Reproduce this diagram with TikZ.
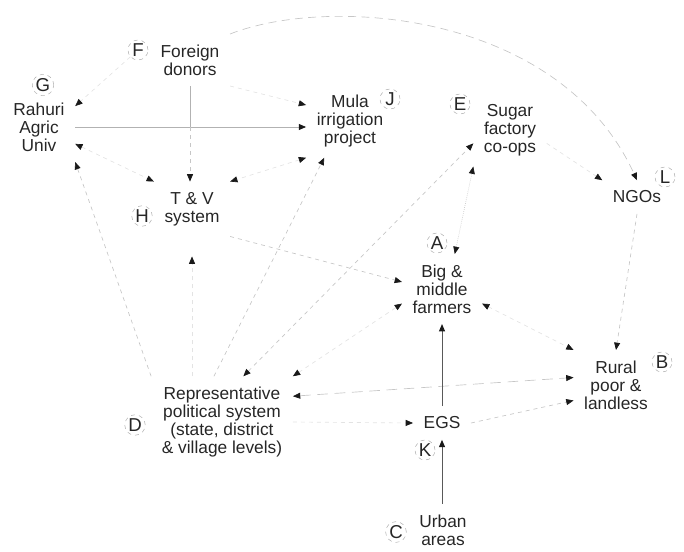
\documentclass[tikz,border=0pt]{standalone}
\usepackage{fontspec}
\setmainfont{Liberation Sans}
\usepackage{tikz}
\usetikzlibrary{arrows.meta,positioning,calc}
\tikzset{
  agActor/.style={align=center, inner sep=1.5pt, outer sep=6.5pt,
    font=\fontsize{13}{13.5}\selectfont, text=black!85},
  agTag/.style={circle, draw=gray!60, dashed, line width=0.4pt, inner sep=0.5pt,
    minimum size=15pt, font=\fontsize{14}{14}\selectfont, text=black!85},
  %% Connectors
  agTip/.style={-{Triangle[length=5.5pt, width=4.5pt, color=black!90]}},
  agLink/.style={draw=gray!45, dashed, line width=0.5pt, agTip},
  agBoth/.style={draw=gray!45, dashed, line width=0.5pt,
    {Triangle[length=5.5pt, width=4.5pt, color=black!90]}-{Triangle[length=5.5pt, width=4.5pt, color=black!90]}},
  agFaint/.style={draw=gray!22},
  agPlain/.style={draw=gray!60, line width=0.6pt},
  agMain/.style={draw=black!65, line width=0.7pt, agTip},
}

\begin{document}
\begin{tikzpicture}[x=0.75pt, y=-0.75pt, font=\fontsize{13}{13.5}\selectfont]
\useasboundingbox (0,0) rectangle (684,551);

%% Actors
\node[agActor] (donors)  at (190, 60) {Foreign\\donors};
\node[agActor] (rahuri)  at ( 39,127) {Rahuri\\Agric\\Univ};
\node[agActor] (mula)    at (350,121) {Mula\\irrigation\\project};
\node[agActor] (sugar)   at (510,130) {Sugar\\factory\\co-ops};
\node[agActor] (ngos)    at (637,197) {NGOs};
\node[agActor] (tv)      at (192,209) {T \& V\\system};
\node[agActor] (farmers) at (442,289) {Big \&\\middle\\farmers};
\node[agActor] (poor)    at (616,385) {Rural\\poor \&\\landless};
\node[agActor] (polsys)  at (222,422) {Representative\\political system\\(state, district\\\& village levels)};
\node[agActor] (egs)     at (442,423) {EGS};
\node[agActor] (urban)   at (443,530) {Urban\\areas};

%% Letter tags
\node[agTag] (tF) at (138, 50) {F};
\node[agTag] (tG) at ( 43, 85) {G};
\node[agTag] (tJ) at (390, 99) {J};
\node[agTag] (tE) at (460,104) {E};
\node[agTag] (tL) at (665,177) {L};
\node[agTag] (tH) at (142,216) {H};
\node[agTag] (tA) at (437,243) {A};
\node[agTag] (tB) at (662,362) {B};
\node[agTag] (tD) at (135,425) {D};
\node[agTag] (tK) at (425,450) {K};
\node[agTag] (tC) at (396,532) {C};

%% Donor and university links
\draw[agPlain] (donors.south) -- (donors.south |- rahuri.east) coordinate (fjoin);
\draw[agPlain, agTip] (rahuri.east) -- (rahuri.east -| mula.west);
\draw[agLink] (fjoin) -- (fjoin |- tv.north);
\draw[agLink, agFaint] (donors.south east) -- (mula.160);
\draw[agLink, agFaint] (tF) -- (rahuri.30);
\draw[agLink, dash pattern=on 6pt off 4pt] (donors.north east)
  .. controls (330,-5) and (560,12) .. (ngos.north);
\draw[agBoth, agFaint] (rahuri.-25) -- (tv.north west);
\draw[agBoth, agFaint] (mula.south west) -- (tv.north east);

%% Political system
\draw[agLink] (polsys.north west) -- (rahuri.south east);
\draw[agLink] (polsys.100) -- (mula.235);
\draw[agLink, agFaint, shorten >=15pt] (polsys.north -| tv) -- (tv.south);
\draw[agBoth] (polsys.65) -- (sugar.200);
\draw[agBoth, agFaint] (polsys.north east) -- (farmers.200);
\draw[agBoth, dash pattern=on 8pt off 5pt] (polsys.20) -- (poor.170);
\draw[agLink, agFaint] (polsys.east) -- (egs.west);

%% Farmers, co-ops and NGOs
\draw[agLink] (tv.south east) -- (farmers.170);
\draw[agBoth, densely dotted] (farmers.70) -- (sugar.south west);
\draw[agBoth, agFaint] (farmers.-20) -- (poor.north west);
\draw[agLink, agFaint] (sugar.-20) -- (ngos.north west);
\draw[agLink] (ngos.south) -- (poor.north);

%% Employment guarantee
\draw[agMain] (egs.south |- urban.north) -- (egs.south);
\draw[agMain] (egs.north) -- (egs.north |- farmers.south);
\draw[agLink] (egs.east) -- (poor.200);

\end{tikzpicture}
\end{document}
